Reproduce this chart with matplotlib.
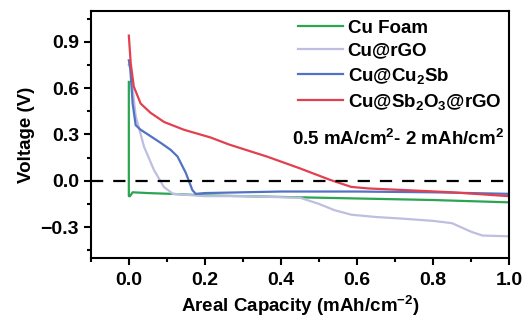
import matplotlib
matplotlib.use("Agg")
import matplotlib.pyplot as plt
from matplotlib.ticker import MultipleLocator, FuncFormatter

plt.rcParams['font.family'] = ['Liberation Sans', 'DejaVu Sans']
plt.rcParams['font.weight'] = 'bold'
plt.rcParams['axes.labelweight'] = 'bold'
plt.rcParams['mathtext.fontset'] = 'custom'
plt.rcParams['mathtext.rm'] = 'Liberation Sans:bold'
plt.rcParams['mathtext.it'] = 'Liberation Sans:bold'
plt.rcParams['mathtext.bf'] = 'Liberation Sans:bold'
plt.rcParams['mathtext.default'] = 'rm'

# data
foam_x = [0, 0, 0.003, 0.01, 0.05, 0.11, 0.2, 0.4, 0.6, 0.8, 1.0]
foam_y = [0.64, -0.10, -0.10, -0.075, -0.08, -0.085, -0.095, -0.105, -0.115, -0.125, -0.14]

rgo_x = [0, 0.004, 0.008, 0.018, 0.04, 0.066, 0.092, 0.116, 0.2, 0.3, 0.45, 0.5,
         0.54, 0.585, 0.65, 0.716, 0.8, 0.85, 0.9, 0.93, 1.0]
rgo_y = [0.75, 0.74, 0.64, 0.42, 0.22, 0.07, -0.04, -0.085, -0.1, -0.1, -0.11, -0.15,
         -0.19, -0.22, -0.235, -0.245, -0.26, -0.275, -0.33, -0.355, -0.36]

cusb_x = [0, 0.004, 0.01, 0.018, 0.031, 0.05, 0.084, 0.11, 0.128, 0.15, 0.167, 0.176,
          0.2, 0.4, 0.6, 0.8, 1.0]
cusb_y = [0.78, 0.72, 0.5, 0.36, 0.33, 0.3, 0.245, 0.2, 0.157, 0.05, -0.06, -0.085,
          -0.08, -0.07, -0.07, -0.075, -0.085]

sbo_x = [0, 0.005, 0.013, 0.031, 0.057, 0.093, 0.145, 0.215, 0.263, 0.365,
         0.45, 0.53, 0.585, 0.63, 0.72, 0.85, 1.0]
sbo_y = [0.94, 0.76, 0.61, 0.5, 0.44, 0.38, 0.33, 0.28, 0.235, 0.155,
         0.08, 0.005, -0.04, -0.05, -0.06, -0.075, -0.1]

labels = ['Cu Foam', 'Cu@rGO', 'Cu@Cu$_2$Sb', 'Cu@Sb$_2$O$_3$@rGO']
colors = ['#2ba552', '#bebee0', '#5272c2', '#e2404f']

fig = plt.figure(figsize=(5.28, 3.2), dpi=100)
ax = fig.add_axes([0.172, 0.194, 0.792, 0.772])

series = [(foam_x, foam_y), (rgo_x, rgo_y), (cusb_x, cusb_y), (sbo_x, sbo_y)]
for (xs, ys), lab, c in zip(series, labels, colors):
    ax.plot(xs, ys, color=c, lw=1.6, label=lab)

ax.axhline(0, color='black', lw=1.6, ls=(0, (5.5, 4.5)))

ax.set_xlim(-0.1, 1.0)
ax.set_ylim(-0.5, 1.1)
ax.xaxis.set_major_locator(MultipleLocator(0.2))
ax.xaxis.set_minor_locator(MultipleLocator(0.1))
ax.yaxis.set_major_locator(MultipleLocator(0.3))
ax.yaxis.set_minor_locator(MultipleLocator(0.15))
fmt = FuncFormatter(lambda v, p: f'{v:.1f}'.replace('-', '\u2212'))
ax.xaxis.set_major_formatter(fmt)
ax.yaxis.set_major_formatter(fmt)

for s in ax.spines.values():
    s.set_linewidth(1.5)
ax.tick_params(which='major', direction='out', length=5, width=1.5, labelsize=14)
ax.tick_params(axis='x', which='major', pad=5)
ax.tick_params(axis='y', which='major', pad=3.5)
ax.tick_params(which='minor', direction='out', length=3, width=1.5)

ax.set_xlabel('Areal Capacity (mAh/cm$^{-2}$)', fontsize=13.5, labelpad=4)
ax.set_ylabel('Voltage (V)', fontsize=13.5, labelpad=4)

ax.legend(loc='upper right', bbox_to_anchor=(0.995, 0.988), frameon=False, fontsize=13.5,
          handlelength=2.4, handletextpad=0.27, labelspacing=0.32, borderaxespad=0,
          borderpad=0.3)

ax.text(0.988, 0.483, '0.5 mA/cm$^2$- 2 mAh/cm$^2$', transform=ax.transAxes,
        ha='right', va='center', fontsize=13.5)

fig.savefig('out.png', dpi=100)
